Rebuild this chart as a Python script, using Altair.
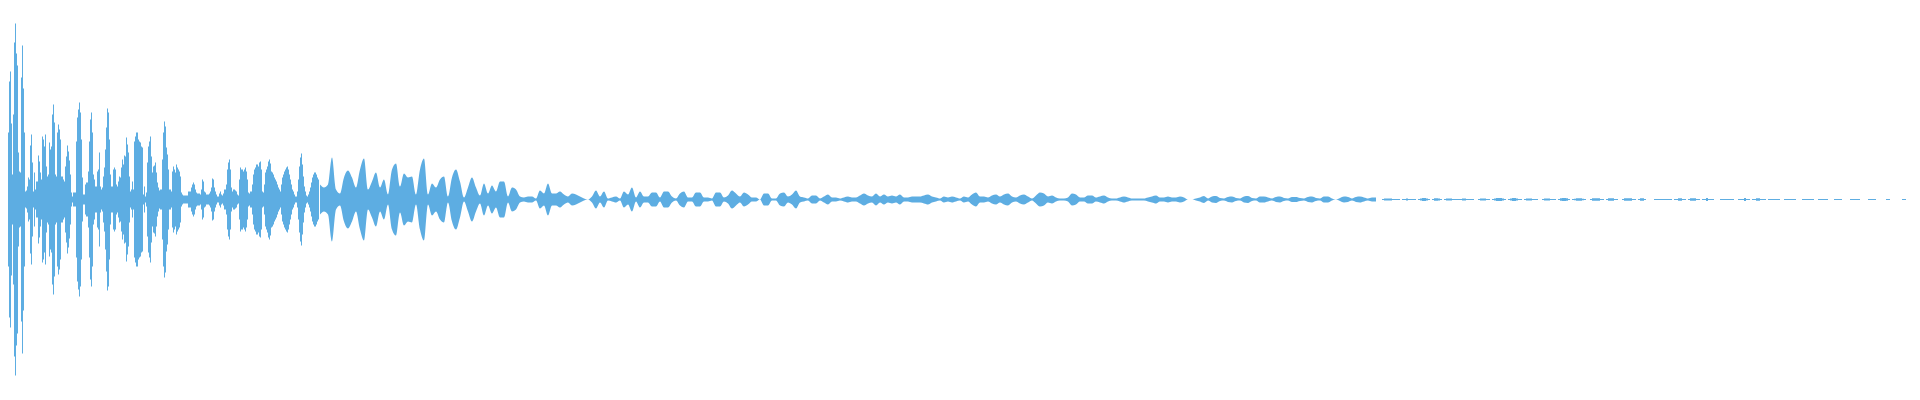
import altair as alt
import pandas as pd

# Waveform amplitude (peak, symmetric about the centre line).
# Attack: one value per pixel column, x = 0 .. 319
amp_attack = [
    12, 18, 40, 45, 28, 47, 28, 27, 67, 118,
    128, 76, 25, 85, 157, 176, 146, 134, 47, 28,
    27, 122, 154, 111, 67, 8, 9, 13, 22, 20,
    54, 65, 37, 8, 27, 10, 18, 18, 44, 38,
    27, 20, 63, 60, 53, 65, 33, 23, 25, 57,
    50, 53, 85, 95, 77, 25, 23, 67, 75, 70,
    60, 23, 23, 20, 18, 33, 43, 54, 48, 39,
    25, 7, 3, 7, 7, 7, 58, 82, 90, 97,
    87, 60, 22, 5, 5, 15, 17, 17, 28, 58,
    80, 87, 67, 25, 20, 13, 13, 28, 30, 47,
    13, 10, 12, 23, 32, 50, 72, 91, 87, 60,
    25, 13, 13, 30, 32, 30, 15, 13, 18, 23,
    22, 32, 40, 35, 44, 43, 62, 55, 47, 23,
    8, 10, 18, 10, 58, 63, 67, 67, 60, 58,
    57, 53, 52, 5, 13, 3, 7, 37, 53, 58,
    63, 43, 27, 33, 34, 37, 27, 17, 12, 9,
    10, 10, 40, 67, 78, 73, 52, 45, 30, 10,
    10, 8, 28, 33, 30, 27, 35, 32, 30, 28,
    23, 7, 5,
    4, 4, 4, 4, 4, 8, 8, 8, 12, 15,
    17, 15, 10, 7, 6, 6, 6, 5, 10, 20,
    18, 8, 7, 5, 5, 5, 6, 8, 12, 21,
    20, 12, 8, 5, 3, 3, 6, 8, 5, 4,
    6, 10, 10, 15, 30, 37, 40, 30, 12, 8,
    10, 10, 9, 8, 5, 4, 20, 32, 30, 30,
    28, 30, 32, 28, 20, 7, 6, 8, 8, 15,
    25, 30, 32, 35, 35, 33, 37, 38, 30, 8,
    7, 15, 27, 30, 33, 38, 40, 36, 28, 27,
    25, 22, 20, 18, 15, 12, 10, 8, 15, 22,
    25, 28, 30, 32, 33, 30, 25, 20, 15, 10,
    8, 5, 3, 3, 8, 20, 33, 42, 46, 35,
    23, 13, 8, 4, 3, 5, 8, 12, 17, 22,
    25, 27, 27, 25, 22, 20, 18,
]

# Decay: one value every 4 pixel columns, x = 320 .. 1376
amp_decay = [
    15, 12, 15, 42, 10, 6, 22, 29, 22, 12,
    30, 41, 10, 18, 27, 12, 20, 5, 30, 36,
    13, 26, 22, 23, 5, 30, 41, 5, 16, 12,
    20, 23, 3, 22, 30, 18,
    2, 12, 22, 12, 4, 16, 6, 14, 8, 18,
    18, 3, 12, 10, 3, 2, 3, 3, 1, 9,
    6, 16, 6, 6, 8, 5, 3, 6, 5, 3,
    1, 0, 3, 9, 3, 8, 1, 2, 3, 1,
    8, 5, 12, 2, 8, 3, 3, 7, 7, 2,
    8, 8, 3, 1, 6, 8, 2, 2, 7, 7,
    2, 2, 1, 7, 7, 2, 4, 9, 6, 3,
    7, 5, 2, 2, 0, 6, 6, 1, 1, 6,
    7, 3, 5, 9, 3, 2, 1, 4, 4, 1,
    3, 5, 2, 2, 1, 2, 3, 2, 2, 4,
    6, 4, 3, 6, 3, 5, 3, 4, 3, 5,
    2, 2, 3, 3, 3,
    4, 5, 3, 2, 1, 3, 2, 3, 2, 1,
    3, 2, 5, 7, 3, 3, 2, 4, 5, 3,
    5, 6, 3, 2, 4, 5, 3, 1, 4, 7,
    6, 3, 4, 2, 1, 1, 2, 6, 5, 2,
    2, 4, 4, 2, 3, 4, 2, 1, 1, 2,
    3, 2, 1, 1, 1, 1, 2, 3, 4, 2,
    2, 3, 2, 2, 3, 2, 0, 0, 1, 2,
    3.5, 1, 3, 3.5, 1.5,
    1, 2.5, 3, 1.5, 1, 3, 3.5, 1.5, 1, 3,
    3, 2, 1, 2.5, 3, 1.5, 1, 2.5, 2.5, 1.5,
    1, 2.5, 3, 1.5, 1, 3, 3, 1, 0, 1.5,
    3, 2.5, 1, 2.5, 3, 2, 1, 2, 2,
]

# Tail: one value every 2 pixel columns, x = 1380 .. 1906
amp_tail = [
    0, 0.5, 1, 1, 1, 1, 0.5, 0.5, 0.5, 0.5,
    0, 0.5, 0.5, 1, 0.5, 0.5, 0.5, 0.5, 0, 0.5,
    1, 1.5, 1.5, 1, 0.5, 0, 0.5, 1.2, 1.2, 1,
    0.5, 0, 0.5, 1, 1, 1, 0.5, 0.5, 0.5, 0.5,
    0.5, 1, 1, 0.5, 0.5, 0.5, 0.5, 0, 0, 0.5,
    1, 1, 1, 0.5, 0.5, 0, 0.5, 1, 1.5, 1.5,
    1.5, 1, 0.5, 0, 0.5, 1, 1.5, 1.5, 1, 0.5,
    0.5, 0, 0.5, 1, 1, 1, 0.5, 0.5, 0.5, 0,
    0, 0.5, 1, 1, 1, 0.5, 0.5, 0.5, 0, 0.5,
    1.2, 1.5, 1.5, 1.2, 0.5, 0, 0.5, 0.8, 1.2, 1.2,
    1.2, 0.8, 0.5, 0, 0, 0.5, 1.2, 1.2, 1.2, 1.2,
    0.5, 0.5, 0, 0.5, 1.2, 1.2, 1.2, 0.5, 0.5, 0,
    0, 0.5, 1.2, 1.2, 1.2, 1.2, 0.5, 0.5, 0, 0.5,
    1.2, 1.2, 0.5, 0, 0, 0, 0, 0.5, 0.5, 0.5,
    0.5, 0.5, 0.5, 0.5, 0.5, 0.5, 0, 0.5, 0.5, 1.2,
    1.2, 0.5, 0.5, 0, 0.5, 1.2, 1.2, 1.2, 0.5, 0.5,
    0, 0.5, 0.5, 1.5, 0.5, 0.5, 0.5, 0, 0, 0,
    0.5, 0.5, 0.5, 0.5, 0.5, 0.5, 0.5, 0, 0, 0.5,
    0.5, 0.5, 1.5, 0.5, 0.5, 0, 0.5, 0.5, 1.2, 1.2,
    0.5, 0.5, 0.5, 0, 0.5, 0.5, 0.5, 0.5, 0.5, 0.5,
    0, 0, 0.5, 0.5, 0.5, 0.5, 0.5, 0.5, 0, 0,
    0, 0.5, 0.5, 0.5, 0.5, 0.5, 0.5, 0, 0, 0.5,
    0.5, 0.5, 0.5, 0.5, 0, 0, 0, 0.5, 0.5, 0.5,
    0.5, 0, 0, 0, 0, 0.5, 0.5, 0.5, 0.5, 0.5,
    0, 0, 0, 0, 0.5, 0.5, 0.5, 0.5, 0, 0,
    0, 0, 0, 0.5, 0.5, 0, 0, 0, 0, 0,
    0, 0.5, 0.5, 0,
]


def frame(amps, start, step):
    return pd.DataFrame({
        "t": [start + step * i for i in range(len(amps))],
        "hi": amps,
        "lo": [-a for a in amps],
    })


df_a = frame(amp_attack, 0, 1)
df_b = frame(amp_decay, 320, 4)
df_c = frame(amp_tail, 1380, 2)

COLOR = "#5DADE2"
xs = alt.Scale(domain=[8, 1912], nice=False, zero=False)
ys = alt.Scale(domain=[-188.5, 191.5], nice=False, zero=False)


def layer(df, interp):
    return alt.Chart(df).mark_area(
        color=COLOR, interpolate=interp, clip=True, opacity=1
    ).encode(
        x=alt.X("t:Q", scale=xs, axis=None),
        y=alt.Y("hi:Q", scale=ys, axis=None),
        y2="lo:Q",
    )


chart = alt.layer(
    layer(df_a, "step-after"),
    layer(df_b, "monotone"),
    layer(df_c, "step-after"),
).properties(
    width=1904, height=380, padding=0,
    autosize=alt.AutoSizeParams(type="none"),
).configure_view(stroke=None)

chart.save("out.html", embed_options={"renderer": "svg", "actions": False})
